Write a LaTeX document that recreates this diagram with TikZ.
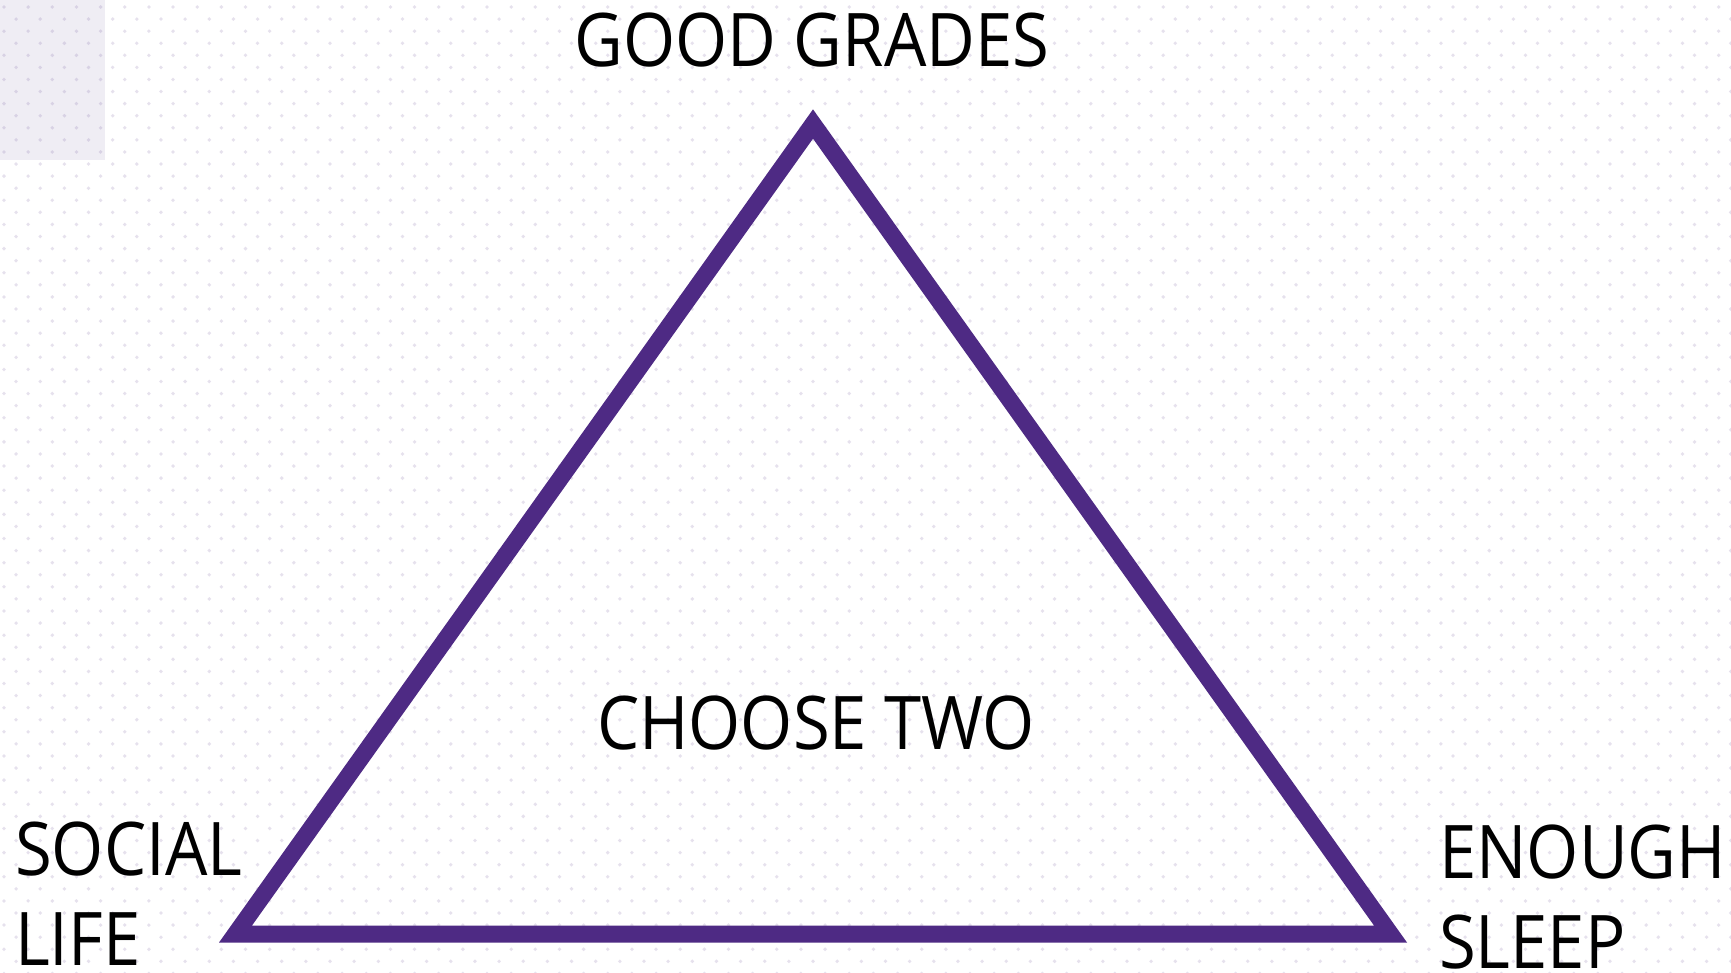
\documentclass[tikz,border=0pt]{standalone}
\usepackage{fontspec}
\setmainfont[FakeStretch=0.905]{Open Sans}
\definecolor{tripurple}{HTML}{4E2A84}
\definecolor{dotcol}{HTML}{5A3C8C}
\definecolor{boxgrey}{HTML}{EFEDF4}
\tikzset{
  lbl/.style={inner sep=0pt, font=\fontsize{74}{90}\selectfont, text=black},
  tri/.style={draw=tripurple, line width=17pt, line join=miter},
}
\begin{document}
\begin{tikzpicture}[x=1pt,y=-1pt]
\useasboundingbox (0,0) rectangle (1731,972);
\fill[white] (0,0) rectangle (1731,972);
\fill[boxgrey] (0,0) rectangle (105,160);
\foreach \r in {0,...,80}{
  \pgfmathsetmacro{\yy}{7+12.08*\r}
  \pgfmathsetmacro{\xo}{mod(\r,2)==0 ? 4 : 16.08}
  \foreach \c in {0,...,71}{
    \fill[dotcol,opacity=0.15] ({\xo+24.15*\c},\yy) circle (1.9);
  }
}
\coordinate (apex) at (813,124);
\coordinate (bl) at (235.5,934);
\coordinate (br) at (1390.5,934);
\draw[tri] (apex) -- (bl) -- (br) -- cycle;
\node[lbl, anchor=base] (grades) at (812,66) {GOOD GRADES};
\node[lbl, anchor=base] (choose) at (816,749) {CHOOSE TWO};
\node[lbl, anchor=base west, align=left] (social) at (15,965) {SOCIAL\\LIFE};
\node[lbl, anchor=base west, align=left] (sleep) at (1439,968) {ENOUGH\\SLEEP};
\end{tikzpicture}
\end{document}
